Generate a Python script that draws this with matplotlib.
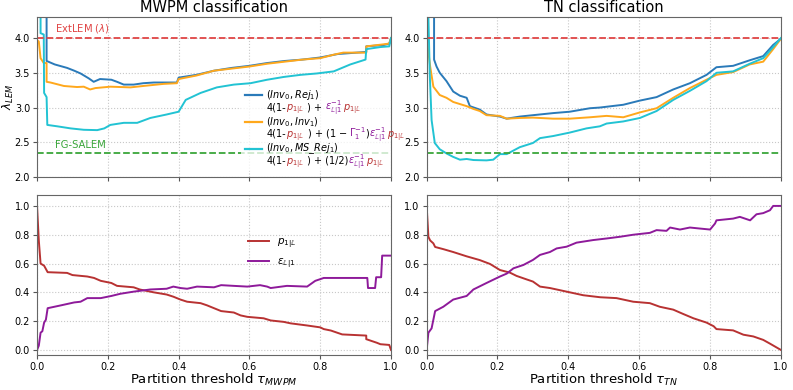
import matplotlib
matplotlib.use('Agg')
import matplotlib.pyplot as plt
from matplotlib.offsetbox import TextArea, HPacker, AnchoredOffsetbox
from matplotlib.patches import Rectangle

# ---- MWPM classification: lambda_LEM curves ----
mwpm_rej_x = [0.0, 0.027, 0.027, 0.05, 0.085, 0.105, 0.123, 0.146, 0.16, 0.178, 0.21, 0.226, 0.245, 0.273, 0.3, 0.33,
              0.36, 0.395, 0.4, 0.45, 0.5, 0.55, 0.6, 0.65, 0.7, 0.75, 0.8, 0.85, 0.93, 0.93, 0.98, 0.995, 1.0]
mwpm_rej_y = [6.0, 6.0, 3.67, 3.62, 3.57, 3.53, 3.49, 3.42, 3.37, 3.41, 3.40, 3.37, 3.33, 3.33, 3.35, 3.36,
              3.36, 3.36, 3.43, 3.47, 3.53, 3.57, 3.60, 3.64, 3.67, 3.69, 3.72, 3.77, 3.80, 3.88, 3.90, 3.92, 4.0]

mwpm_inv_x = [0.0, 0.005, 0.01, 0.019, 0.027, 0.027, 0.038, 0.076, 0.113, 0.132, 0.15, 0.165, 0.207, 0.264, 0.3, 0.357,
              0.395, 0.4, 0.45, 0.5, 0.55, 0.6, 0.65, 0.7, 0.75, 0.8, 0.838, 0.865, 0.93, 0.93, 0.98, 0.995, 1.0]
mwpm_inv_y = [3.97, 3.95, 3.71, 3.64, 3.64, 3.37, 3.36, 3.31, 3.295, 3.30, 3.26, 3.28, 3.30, 3.29, 3.31, 3.34,
              3.35, 3.41, 3.46, 3.53, 3.56, 3.59, 3.63, 3.66, 3.69, 3.71, 3.76, 3.79, 3.79, 3.88, 3.91, 3.92, 4.0]

mwpm_ms_x = [0.0, 0.01, 0.01, 0.019, 0.02, 0.027, 0.029, 0.057, 0.095, 0.132, 0.17, 0.19, 0.207, 0.245, 0.283, 0.32,
             0.366, 0.4, 0.42, 0.462, 0.508, 0.556, 0.603, 0.65, 0.697, 0.744, 0.79, 0.838, 0.885, 0.928, 0.93,
             0.97, 0.995, 1.0]
mwpm_ms_y = [6.0, 6.0, 4.07, 4.05, 3.21, 3.15, 2.75, 2.73, 2.70, 2.68, 2.675, 2.70, 2.75, 2.78, 2.78, 2.85,
             2.90, 2.94, 3.11, 3.21, 3.29, 3.33, 3.35, 3.40, 3.44, 3.47, 3.49, 3.52, 3.62, 3.69, 3.84,
             3.87, 3.88, 4.0]

# ---- TN classification: lambda_LEM curves ----
tn_rej_x = [0.0, 0.021, 0.021, 0.028, 0.037, 0.056, 0.075, 0.094, 0.113, 0.122, 0.15, 0.169, 0.207, 0.226, 0.263, 0.3,
            0.357, 0.404, 0.461, 0.489, 0.555, 0.602, 0.649, 0.696, 0.743, 0.79, 0.818, 0.865, 0.912, 0.95, 0.978,
            1.0]
tn_rej_y = [6.0, 6.0, 3.69, 3.59, 3.50, 3.38, 3.23, 3.17, 3.14, 3.02, 2.97, 2.90, 2.87, 2.84, 2.87, 2.89,
            2.92, 2.94, 2.99, 3.00, 3.04, 3.10, 3.15, 3.26, 3.35, 3.47, 3.58, 3.60, 3.68, 3.74, 3.90,
            3.99]

tn_inv_x = [0.0, 0.01, 0.019, 0.037, 0.056, 0.075, 0.094, 0.113, 0.132, 0.15, 0.169, 0.207, 0.226, 0.263, 0.3, 0.357,
            0.404, 0.461, 0.508, 0.555, 0.602, 0.649, 0.696, 0.743, 0.79, 0.818, 0.865, 0.912, 0.95, 0.978, 1.0]
tn_inv_y = [4.0, 3.59, 3.30, 3.18, 3.14, 3.08, 3.05, 3.02, 2.98, 2.95, 2.89, 2.88, 2.84, 2.85, 2.855, 2.84,
            2.84, 2.86, 2.88, 2.86, 2.93, 2.99, 3.14, 3.28, 3.40, 3.47, 3.51, 3.62, 3.66, 3.84, 3.99]

tn_ms_x = [0.0, 0.005, 0.009, 0.014, 0.023, 0.037, 0.056, 0.075, 0.094, 0.113, 0.132, 0.169, 0.188, 0.207, 0.226,
           0.263, 0.3, 0.32, 0.357, 0.404, 0.451, 0.489, 0.508, 0.555, 0.602, 0.649, 0.696, 0.743, 0.79, 0.818,
           0.865, 0.912, 0.95, 0.978, 1.0]
tn_ms_y = [6.0, 4.3, 3.45, 2.82, 2.49, 2.40, 2.34, 2.29, 2.25, 2.26, 2.245, 2.24, 2.25, 2.33, 2.33,
           2.43, 2.49, 2.56, 2.59, 2.64, 2.70, 2.73, 2.77, 2.80, 2.85, 2.95, 3.11, 3.24, 3.38, 3.50,
           3.52, 3.63, 3.71, 3.87, 4.0]

ext_lem = 4.0
fg_salem = 2.34

# ---- MWPM classification: p_1|L and eps_L|1 ----
mwpm_p_x = [0.0, 0.005, 0.01, 0.02, 0.03, 0.085, 0.1, 0.142, 0.161, 0.18, 0.21, 0.226, 0.273, 0.29, 0.33, 0.366, 0.385,
            0.405, 0.424, 0.462, 0.48, 0.5, 0.52, 0.556, 0.575, 0.594, 0.64, 0.66, 0.697, 0.716, 0.763, 0.8, 0.81,
            0.83, 0.862, 0.93, 0.93, 0.96, 0.97, 0.995, 1.0]
mwpm_p_y = [1.0, 0.76, 0.60, 0.585, 0.54, 0.535, 0.52, 0.51, 0.50, 0.48, 0.465, 0.445, 0.435, 0.42, 0.40, 0.385, 0.37,
            0.35, 0.335, 0.325, 0.31, 0.29, 0.27, 0.26, 0.24, 0.23, 0.22, 0.205, 0.195, 0.185, 0.17, 0.157, 0.145,
            0.135, 0.108, 0.10, 0.075, 0.05, 0.04, 0.035, 0.0]

mwpm_e_x = [0.0, 0.005, 0.01, 0.015, 0.02, 0.025, 0.03, 0.068, 0.105, 0.123, 0.142, 0.18, 0.21, 0.235, 0.273, 0.32,
            0.366, 0.385, 0.405, 0.424, 0.452, 0.5, 0.52, 0.556, 0.594, 0.63, 0.65, 0.66, 0.706, 0.763, 0.786, 0.81,
            0.933, 0.935, 0.955, 0.958, 0.972, 0.975, 1.0]
mwpm_e_y = [0.0, 0.03, 0.12, 0.13, 0.19, 0.21, 0.29, 0.31, 0.33, 0.335, 0.36, 0.36, 0.375, 0.39, 0.405, 0.42,
            0.425, 0.44, 0.43, 0.425, 0.44, 0.435, 0.45, 0.445, 0.44, 0.45, 0.44, 0.43, 0.445, 0.44, 0.48, 0.50,
            0.50, 0.43, 0.43, 0.505, 0.505, 0.655, 0.655]

# ---- TN classification: p_1|L and eps_L|1 ----
tn_p_x = [0.0, 0.005, 0.01, 0.019, 0.024, 0.047, 0.075, 0.113, 0.15, 0.179, 0.207, 0.235, 0.254, 0.282, 0.3, 0.32,
          0.348, 0.395, 0.442, 0.49, 0.536, 0.583, 0.63, 0.658, 0.696, 0.724, 0.753, 0.79, 0.81, 0.818, 0.865,
          0.894, 0.922, 0.95, 0.969, 1.0]
tn_p_y = [1.0, 0.785, 0.76, 0.74, 0.715, 0.70, 0.68, 0.65, 0.624, 0.597, 0.555, 0.537, 0.514, 0.49, 0.475, 0.44,
          0.43, 0.405, 0.38, 0.366, 0.36, 0.335, 0.325, 0.30, 0.28, 0.25, 0.22, 0.19, 0.165, 0.145, 0.136,
          0.106, 0.094, 0.07, 0.044, 0.0]

tn_e_x = [0.0, 0.005, 0.014, 0.019, 0.024, 0.047, 0.075, 0.113, 0.132, 0.169, 0.207, 0.226, 0.245, 0.273, 0.3, 0.32,
          0.348, 0.367, 0.395, 0.423, 0.47, 0.508, 0.546, 0.583, 0.63, 0.649, 0.677, 0.687, 0.715, 0.743, 0.771,
          0.8, 0.814, 0.818, 0.865, 0.884, 0.913, 0.931, 0.95, 0.969, 0.978, 1.0]
tn_e_y = [0.0, 0.12, 0.15, 0.21, 0.27, 0.30, 0.35, 0.375, 0.42, 0.465, 0.51, 0.53, 0.567, 0.59, 0.625, 0.66,
          0.68, 0.705, 0.717, 0.745, 0.763, 0.774, 0.786, 0.80, 0.813, 0.832, 0.827, 0.85, 0.836, 0.85, 0.843,
          0.836, 0.878, 0.90, 0.912, 0.924, 0.90, 0.942, 0.95, 0.97, 1.0, 1.0]

c_blue = '#2a7ab9'
c_orange = '#ffa81c'
c_cyan = '#22c3d3'
c_red = '#e04545'
c_green = '#3aa63a'
c_p = '#b83232'
c_e = '#8e1a9a'

fig = plt.figure(figsize=(7.93, 3.90), dpi=100)
ax_tl = fig.add_axes([0.0467, 0.546, 0.4464, 0.41])
ax_tr = fig.add_axes([0.538, 0.546, 0.4468, 0.41])
ax_bl = fig.add_axes([0.0467, 0.0897, 0.4464, 0.41])
ax_br = fig.add_axes([0.538, 0.0897, 0.4468, 0.41])

lw = 1.4
# top panels
for ax, curves, title in [
        (ax_tl, [(mwpm_rej_x, mwpm_rej_y, c_blue), (mwpm_inv_x, mwpm_inv_y, c_orange), (mwpm_ms_x, mwpm_ms_y, c_cyan)],
         'MWPM classification'),
        (ax_tr, [(tn_rej_x, tn_rej_y, c_blue), (tn_inv_x, tn_inv_y, c_orange), (tn_ms_x, tn_ms_y, c_cyan)],
         'TN classification')]:
    for xs, ys, c in curves:
        ax.plot(xs, ys, color=c, lw=lw)
    ax.axhline(ext_lem, color=c_red, ls='--', lw=1.3)
    ax.axhline(fg_salem, color=c_green, ls='--', lw=1.3)
    ax.set_xlim(0, 1)
    ax.set_ylim(2.0, 4.3)
    ax.set_yticks([2.0, 2.5, 3.0, 3.5, 4.0])
    ax.set_xticks([0, 0.2, 0.4, 0.6, 0.8, 1.0])
    ax.set_xticklabels([])
    ax.set_title(title, fontsize=10.5, pad=4)

ax_tl.set_ylabel(r'$\lambda_{LEM}$', fontsize=8.5)
ax_tl.yaxis.set_label_coords(-0.06, 0.5)
ax_tl.text(0.05, 4.13, r'ExtLEM ($\lambda$)', color=c_red, fontsize=7.2, va='center')
ax_tl.text(0.05, 2.46, 'FG-SALEM', color=c_green, fontsize=7.2, va='center')

# bottom panels
for ax, px, py, ex, ey, lab in [
        (ax_bl, mwpm_p_x, mwpm_p_y, mwpm_e_x, mwpm_e_y, r'Partition threshold $\tau_{MWPM}$'),
        (ax_br, tn_p_x, tn_p_y, tn_e_x, tn_e_y, r'Partition threshold $\tau_{TN}$')]:
    ax.plot(px, py, color=c_p, lw=lw, label=r'$p_{1|\mathbb{L}}$')
    ax.plot(ex, ey, color=c_e, lw=lw, label=r'$\varepsilon_{\mathbb{L}|1}$')
    ax.set_xlim(0, 1)
    ax.set_ylim(-0.035, 1.075)
    ax.set_yticks([0, 0.2, 0.4, 0.6, 0.8, 1.0])
    ax.set_xticks([0, 0.2, 0.4, 0.6, 0.8, 1.0])
    ax.set_xlabel(lab, fontsize=9.5, labelpad=0)

ax_bl.legend(loc='upper left', bbox_to_anchor=(0.57, 0.8), frameon=False, fontsize=7.5,
             handlelength=2.0, labelspacing=0.6)

for ax in [ax_tl, ax_tr, ax_bl, ax_br]:
    ax.grid(True, ls=':', color='#c8c8c8', lw=0.8)
    ax.tick_params(labelsize=7, length=3, pad=2, color='#555555')
    for s in ax.spines.values():
        s.set_color('#666666')

# legend of top-left panel with coloured formula parts
fs = 7
def piece(t, c='black'):
    return TextArea(t, textprops=dict(color=c, fontsize=fs))

P = r'$p_{1|\mathbb{L}}$'
E = r'$\varepsilon_{\mathbb{L}|1}^{-1}$'
entries = [
    (c_blue, r'$(Inv_0, Rej_1)$', [piece('4(1-'), piece(P, c_p), piece(' ) + '), piece(E, c_e), piece(P, c_p)]),
    (c_orange, r'$(Inv_0, Inv_1)$', [piece('4(1-'), piece(P, c_p), piece(' ) + (1 $-$ '),
                                     piece(r'$\Gamma_1^{-1}$', c_e), piece(')'), piece(E, c_e), piece(P, c_p)]),
    (c_cyan, r'$(Inv_0, MS\_Rej_1)$', [piece('4(1-'), piece(P, c_p), piece(' ) + (1/2)'), piece(E, c_e), piece(P, c_p)]),
]
ax_tl.add_patch(Rectangle((0.575, 0.04), 0.42, 0.52, transform=ax_tl.transAxes, facecolor='white',
                          alpha=0.75, edgecolor='none', zorder=3))
row_y = [(0.515, 0.434), (0.345, 0.266), (0.176, 0.097)]
for (col, l1, parts), (y1, y2) in zip(entries, row_y):
    ax_tl.plot([0.588, 0.636], [y1, y1], color=col, lw=1.6, transform=ax_tl.transAxes, zorder=4)
    ax_tl.text(0.647, y1, l1, fontsize=fs, va='center', ha='left', transform=ax_tl.transAxes, zorder=4)
    line2 = HPacker(children=parts, align='baseline', pad=0, sep=0)
    anch = AnchoredOffsetbox(loc='center left', child=line2, bbox_to_anchor=(0.647, y2),
                             bbox_transform=ax_tl.transAxes, frameon=False, borderpad=0, pad=0)
    anch.set_zorder(4)
    ax_tl.add_artist(anch)

plt.savefig('out.png', dpi=100)
